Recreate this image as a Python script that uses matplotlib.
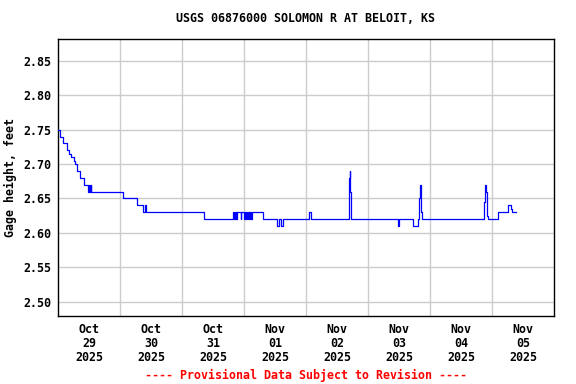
import matplotlib
matplotlib.use("Agg")
import matplotlib.pyplot as plt

# 站点与标签
title = "USGS 06876000 SOLOMON R AT BELOIT, KS"
ylabel = "Gage height, feet"
footer = "---- Provisional Data Subject to Revision ----"
day_labels = ["Oct\n29\n2025", "Oct\n30\n2025", "Oct\n31\n2025", "Nov\n01\n2025",
              "Nov\n02\n2025", "Nov\n03\n2025", "Nov\n04\n2025", "Nov\n05\n2025"]
y_ticks = [2.50, 2.55, 2.60, 2.65, 2.70, 2.75, 2.80, 2.85]

# 读数：自 2025-10-29 00:00 起的小时数，以及水位（ft），阶梯变化
hours = [0, 0.8, 2.05, 3.4, 4.4, 4.9, 6.2, 6.6, 7.4, 8.5, 10.2, 11.7, 12.0, 12.25,
         12.6, 12.85, 25.3, 30.5, 33.0, 33.7, 34.0, 56.6,
         67.6, 68.0, 68.4, 68.9, 69.4, 70.7, 71.0, 72.0, 72.2, 72.6, 72.9, 73.3,
         73.6, 73.8, 74.1, 74.3, 74.6, 74.8, 75.0, 79.2,
         84.9, 85.5, 86.4, 87.0, 97.3, 97.9,
         112.6, 112.9, 113.2, 113.5, 131.5, 132.0,
         137.5, 139.4, 139.7, 140.0, 140.4, 141.0,
         165.0, 165.4, 165.6, 165.9, 166.3, 170.2, 174.3, 175.3, 175.7, 177.2]
gage = [2.75, 2.74, 2.73, 2.72, 2.715, 2.71, 2.705, 2.70, 2.69, 2.68, 2.67, 2.66, 2.67, 2.66,
        2.67, 2.66, 2.65, 2.64, 2.63, 2.64, 2.63, 2.62,
        2.63, 2.62, 2.63, 2.62, 2.63, 2.62, 2.63, 2.62, 2.63, 2.62, 2.63, 2.62,
        2.63, 2.62, 2.63, 2.62, 2.63, 2.62, 2.63, 2.62,
        2.61, 2.62, 2.61, 2.62, 2.63, 2.62,
        2.68, 2.69, 2.66, 2.62, 2.61, 2.62,
        2.61, 2.62, 2.65, 2.67, 2.63, 2.62,
        2.645, 2.67, 2.66, 2.625, 2.62, 2.63, 2.64, 2.635, 2.63, 2.63]

plt.rcParams['font.family'] = ['DejaVu Sans Mono']
plt.rcParams['font.weight'] = 'bold'
fs = 8.4

fig = plt.figure(figsize=(5.76, 3.84), dpi=100)
ax = fig.add_axes([58 / 576, 68 / 384, 496 / 576, 277 / 384])

ax.plot(hours, gage, color='blue', lw=0.9, drawstyle='steps-post', zorder=3)

ax.set_xlim(0, 192)
ax.set_ylim(2.479, 2.882)

# 网格在午夜，标签在中午
ax.set_xticks([24 * i for i in range(1, 8)])
ax.set_xticklabels([])
ax.set_xticks([24 * i + 12 for i in range(8)], minor=True)
ax.set_xticklabels(day_labels, minor=True, fontsize=fs, fontweight='bold', linespacing=1.1)
ax.set_yticks(y_ticks)
ax.set_yticklabels(["%.2f" % v for v in y_ticks], fontsize=fs, fontweight='bold')
ax.tick_params(which='both', length=0)
ax.tick_params(axis='x', which='minor', pad=5)
ax.tick_params(axis='y', pad=5)

ax.grid(True, which='major', color='#cccccc', lw=1)
for s in ax.spines.values():
    s.set_color('black')
    s.set_linewidth(1.0)

ax.set_ylabel(ylabel, fontsize=fs, fontweight='bold', labelpad=4)
fig.text(306 / 576, 1 - 19 / 384, title, ha='center', va='center',
         fontsize=fs, fontweight='bold')
fig.text(306 / 576, 1 - 375 / 384, footer, ha='center', va='center',
         fontsize=fs, fontweight='bold', color='red')

fig.savefig('out.png', dpi=100)
